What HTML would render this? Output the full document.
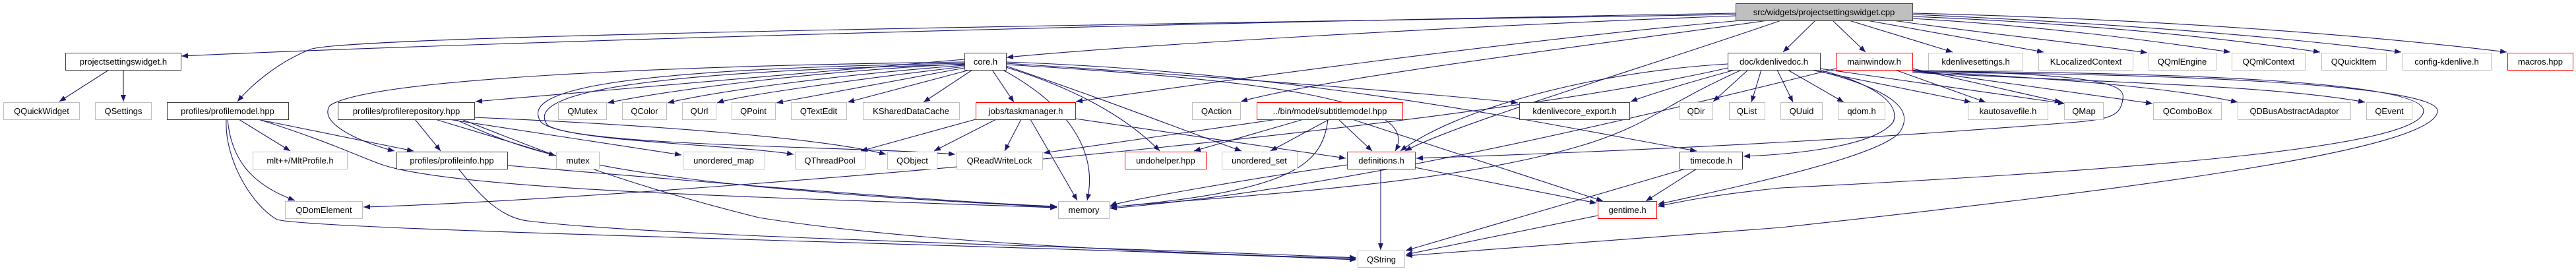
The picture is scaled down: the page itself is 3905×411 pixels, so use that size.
<!DOCTYPE html>
<html><head><meta charset="utf-8"><style>
html,body{margin:0;padding:0;background:#fff;width:3905px;height:411px;overflow:hidden}
svg text{font-family:"Liberation Sans",sans-serif;font-size:13px;text-anchor:middle;fill:#000}
.e{fill:none;stroke:#191970;stroke-width:1.1}
</style></head><body>
<svg width="3905" height="411" viewBox="0 0 3905 411" xmlns="http://www.w3.org/2000/svg">
<defs><marker id="a" markerUnits="userSpaceOnUse" markerWidth="11" markerHeight="8" refX="10" refY="4" orient="auto"><path d="M0,0 L10,4 L0,8 z" fill="#191970"/></marker></defs>
<g class="e" marker-end="url(#a)">
<path d="M165,106 L90,154"/>
<path d="M187,106 L187,154"/>
<!-- top node -->
<path d="M2631,20 C1500,40 600,70 275,85"/>
<path d="M2631,22 C1500,40 520,55 470,75 C420,95 380,130 360,154"/>
<path d="M2631,24 C2200,40 1700,70 1526,87"/>
<path d="M2640,31 C2300,60 1800,130 1631,154"/>
<path d="M2680,31 C2400,70 2000,120 1881,154"/>
<path d="M2700,31 C2500,100 2200,190 2130,229"/>
<path d="M2752,31 L2703,79"/>
<path d="M2778,31 L2828,79"/>
<path d="M2803,31 L2960,79"/>
<path d="M2830,31 L3098,79"/>
<path d="M2870,31 C3000,50 3150,65 3255,80"/>
<path d="M2899,28 C3100,40 3250,60 3381,79"/>
<path d="M2899,25 C3150,35 3350,55 3517,79"/>
<path d="M2899,22 C3200,35 3450,55 3640,79"/>
<path d="M2899,20 C3300,30 3600,55 3800,79"/>
<!-- core.h -->
<path d="M1462,97 C1200,110 1000,140 921,156"/>
<path d="M1462,99 C1250,115 1080,140 1012,156"/>
<path d="M1462,101 C1300,120 1120,145 1087,156"/>
<path d="M1462,103 L1177,156"/>
<path d="M1470,106 L1285,155"/>
<path d="M1474,106 L1400,155"/>
<path d="M1504,106 L1537,155"/>
<path d="M1520,106 C1620,160 1665,230 1648,304"/>
<path d="M1525,102 C1650,140 1720,190 1758,229"/>
<path d="M1525,100 C1700,160 1800,200 1882,229"/>
<path d="M1525,98 C1900,120 2160,150 2115,229"/>
<path d="M1525,96 C1900,120 2200,145 2301,156"/>
<path d="M1525,94 C2000,110 2400,200 2572,229"/>
<path d="M1462,90 L721,154"/>
<path d="M1462,94 C1000,100 560,120 500,160 C480,190 560,220 598,229"/>
<path d="M1462,96 C900,105 790,140 820,185 C850,215 1100,218 1203,234"/>
<path d="M1462,98 C900,110 800,150 830,190 C880,222 1300,222 1448,234"/>
<!-- profilerepository -->
<path d="M629,181 L668,229"/>
<path d="M660,181 L842,236"/>
<path d="M680,181 L1033,235"/>
<path d="M719,178 C1000,190 1250,210 1343,234"/>
<path d="M690,181 C800,230 900,280 1602,314"/>
<path d="M700,181 C850,240 950,280 1150,330 C1400,370 1800,385 2056,392"/>
<!-- profilemodel -->
<path d="M362,181 L440,229"/>
<path d="M345,181 C350,240 380,280 447,304"/>
<path d="M390,181 L627,229"/>
<path d="M392,181 C500,215 550,240 580,250 C700,290 1200,300 1602,315"/>
<path d="M343,181 C340,240 380,310 420,333 C480,350 1500,370 2056,394"/>
<!-- profileinfo -->
<path d="M769,251 C1000,270 1400,305 1602,313"/>
<path d="M695,256 C730,300 760,330 800,335 C1000,360 1700,375 2056,391"/>
<!-- taskmanager -->
<path d="M1479,181 L1305,229"/>
<path d="M1510,181 L1416,229"/>
<path d="M1548,181 L1523,229"/>
<path d="M1562,181 L1633,304"/>
<path d="M1630,180 L2040,240"/>
<!-- subtitlemodel -->
<path d="M1936,181 L1582,232"/>
<path d="M1976,181 L1810,229"/>
<path d="M2015,181 L1926,229"/>
<path d="M2029,181 L2080,229"/>
<path d="M2013,181 C2005,250 1960,290 1683,314"/>
<path d="M2050,181 L2430,305"/>
<!-- definitions/timecode/gentime -->
<path d="M2093,256 L2093,379"/>
<path d="M2145,254 L2420,308"/>
<path d="M2042,250 C1900,270 1700,305 1683,312"/>
<path d="M2572,256 L2495,305"/>
<path d="M2555,256 L2131,380"/>
<path d="M2422,327 L2131,386"/>
<!-- kdenlivedoc -->
<path d="M2650,106 L2597,154"/>
<path d="M2670,106 L2655,155"/>
<path d="M2694,106 L2718,155"/>
<path d="M2710,106 L2795,155"/>
<path d="M2745,106 L2988,155"/>
<path d="M2759,104 L3130,157"/>
<path d="M2630,106 C2560,125 2510,140 2472,154"/>
<path d="M2619,97 C2400,110 2200,170 2123,229"/>
<path d="M2759,106 C2850,130 2880,160 2870,185 C2840,225 2700,235 2643,237"/>
<path d="M2759,108 C2880,140 2900,170 2880,200 C2850,240 2600,290 2513,310"/>
<path d="M2640,106 C2520,160 2500,190 2400,220 C2200,280 1900,295 1683,314"/>
<path d="M2619,103 C2200,200 1000,300 551,314"/>
<!-- mainwindow -->
<path d="M2873,106 L3010,155"/>
<path d="M2899,104 L3125,155"/>
<path d="M2899,106 L3263,157"/>
<path d="M2899,108 C3150,120 3300,135 3392,155"/>
<path d="M2899,110 C3200,125 3450,130 3585,155"/>
<path d="M2899,107 C3200,112 3222,130 3218,150 C3215,175 3200,180 3150,185 C2900,205 2600,225 2147,240"/>
<path d="M2899,108 C3400,110 3674,130 3674,168 C3674,220 3300,255 2700,285 C2600,295 2550,305 2513,313"/>
<path d="M2899,110 C3400,112 3695,135 3695,168 C3695,230 3200,290 2700,345 L2131,388"/>
<path d="M2783,104 C2400,200 2000,290 1683,316"/>
</g>
<!-- nodes -->
<g stroke-width="1">
<rect x="2631.5" y="5.5" width="268" height="26" fill="#bfbfbf" stroke="#404040"/><text x="2765" y="23">src/widgets/projectsettingswidget.cpp</text>
<rect x="99.5" y="80.5" width="175" height="26" fill="#fff" stroke="#404040"/><text x="187" y="98">projectsettingswidget.h</text>
<rect x="1462.5" y="80.5" width="63" height="26" fill="#fff" stroke="#404040"/><text x="1494" y="98">core.h</text>
<rect x="2619.5" y="80.5" width="140" height="26" fill="#fff" stroke="#404040"/><text x="2689" y="98">doc/kdenlivedoc.h</text>
<rect x="2783.5" y="80.5" width="116" height="26" fill="#fff" stroke="#ff0000"/><text x="2841" y="98">mainwindow.h</text>
<rect x="2923.5" y="80.5" width="143" height="26" fill="#fff" stroke="#bfbfbf"/><text x="2995" y="98">kdenlivesettings.h</text>
<rect x="3090.5" y="80.5" width="143" height="26" fill="#fff" stroke="#bfbfbf"/><text x="3162" y="98">KLocalizedContext</text>
<rect x="3257.5" y="80.5" width="102" height="26" fill="#fff" stroke="#bfbfbf"/><text x="3308" y="98">QQmlEngine</text>
<rect x="3383.5" y="80.5" width="111" height="26" fill="#fff" stroke="#bfbfbf"/><text x="3439" y="98">QQmlContext</text>
<rect x="3519.5" y="80.5" width="98" height="26" fill="#fff" stroke="#bfbfbf"/><text x="3568" y="98">QQuickItem</text>
<rect x="3642.5" y="80.5" width="134" height="26" fill="#fff" stroke="#bfbfbf"/><text x="3709" y="98">config-kdenlive.h</text>
<rect x="3801.5" y="80.5" width="99" height="26" fill="#fff" stroke="#ff0000"/><text x="3851" y="98">macros.hpp</text>

<rect x="5.5" y="155.5" width="115" height="26" fill="#fff" stroke="#bfbfbf"/><text x="63" y="173">QQuickWidget</text>
<rect x="144.5" y="155.5" width="85" height="26" fill="#fff" stroke="#bfbfbf"/><text x="187" y="173">QSettings</text>
<rect x="253.5" y="155.5" width="184" height="26" fill="#fff" stroke="#404040"/><text x="345" y="173">profiles/profilemodel.hpp</text>
<rect x="512.5" y="155.5" width="207" height="26" fill="#fff" stroke="#404040"/><text x="616" y="173">profiles/profilerepository.hpp</text>
<rect x="846.5" y="155.5" width="73" height="26" fill="#fff" stroke="#bfbfbf"/><text x="883" y="173">QMutex</text>
<rect x="943.5" y="155.5" width="67" height="26" fill="#fff" stroke="#bfbfbf"/><text x="977" y="173">QColor</text>
<rect x="1034.5" y="155.5" width="51" height="26" fill="#fff" stroke="#bfbfbf"/><text x="1060" y="173">QUrl</text>
<rect x="1109.5" y="155.5" width="66" height="26" fill="#fff" stroke="#bfbfbf"/><text x="1142" y="173">QPoint</text>
<rect x="1199.5" y="155.5" width="84" height="26" fill="#fff" stroke="#bfbfbf"/><text x="1241" y="173">QTextEdit</text>
<rect x="1308.5" y="155.5" width="146" height="26" fill="#fff" stroke="#bfbfbf"/><text x="1381" y="173">KSharedDataCache</text>
<rect x="1479.5" y="155.5" width="151" height="26" fill="#fff" stroke="#ff0000"/><text x="1555" y="173">jobs/taskmanager.h</text>
<rect x="1807.5" y="155.5" width="73" height="26" fill="#fff" stroke="#bfbfbf"/><text x="1844" y="173">QAction</text>
<rect x="1905.5" y="155.5" width="221" height="26" fill="#fff" stroke="#ff0000"/><text x="2016" y="173">../bin/model/subtitlemodel.hpp</text>
<rect x="2303.5" y="155.5" width="167" height="26" fill="#fff" stroke="#404040"/><text x="2387" y="173">kdenlivecore_export.h</text>
<rect x="2546.5" y="155.5" width="50" height="26" fill="#fff" stroke="#bfbfbf"/><text x="2571" y="173">QDir</text>
<rect x="2621.5" y="155.5" width="54" height="26" fill="#fff" stroke="#bfbfbf"/><text x="2648" y="173">QList</text>
<rect x="2699.5" y="155.5" width="63" height="26" fill="#fff" stroke="#bfbfbf"/><text x="2731" y="173">QUuid</text>
<rect x="2786.5" y="155.5" width="71" height="26" fill="#fff" stroke="#bfbfbf"/><text x="2822" y="173">qdom.h</text>
<rect x="2983.5" y="155.5" width="121" height="26" fill="#fff" stroke="#bfbfbf"/><text x="3044" y="173">kautosavefile.h</text>
<rect x="3129.5" y="155.5" width="59" height="26" fill="#fff" stroke="#bfbfbf"/><text x="3159" y="173">QMap</text>
<rect x="3264.5" y="155.5" width="103" height="26" fill="#fff" stroke="#bfbfbf"/><text x="3316" y="173">QComboBox</text>
<rect x="3392.5" y="155.5" width="171" height="26" fill="#fff" stroke="#bfbfbf"/><text x="3478" y="173">QDBusAbstractAdaptor</text>
<rect x="3587.5" y="155.5" width="69" height="26" fill="#fff" stroke="#bfbfbf"/><text x="3622" y="173">QEvent</text>

<rect x="383.5" y="230.5" width="143" height="26" fill="#fff" stroke="#bfbfbf"/><text x="455" y="248">mlt++/MltProfile.h</text>
<rect x="601.5" y="230.5" width="168" height="26" fill="#fff" stroke="#404040"/><text x="685" y="248">profiles/profileinfo.hpp</text>
<rect x="843.5" y="230.5" width="65" height="26" fill="#fff" stroke="#bfbfbf"/><text x="876" y="248">mutex</text>
<rect x="1035.5" y="230.5" width="124" height="26" fill="#fff" stroke="#bfbfbf"/><text x="1097" y="248">unordered_map</text>
<rect x="1205.5" y="230.5" width="106" height="26" fill="#fff" stroke="#bfbfbf"/><text x="1258" y="248">QThreadPool</text>
<rect x="1345.5" y="230.5" width="75" height="26" fill="#fff" stroke="#bfbfbf"/><text x="1383" y="248">QObject</text>
<rect x="1450.5" y="230.5" width="130" height="26" fill="#fff" stroke="#bfbfbf"/><text x="1515" y="248">QReadWriteLock</text>
<rect x="1705.5" y="230.5" width="123" height="26" fill="#fff" stroke="#ff0000"/><text x="1767" y="248">undohelper.hpp</text>
<rect x="1852.5" y="230.5" width="114" height="26" fill="#fff" stroke="#bfbfbf"/><text x="1909" y="248">unordered_set</text>
<rect x="2042.5" y="230.5" width="103" height="26" fill="#fff" stroke="#ff0000"/><text x="2094" y="248">definitions.h</text>
<rect x="2546.5" y="230.5" width="95" height="26" fill="#fff" stroke="#404040"/><text x="2594" y="248">timecode.h</text>

<rect x="432.5" y="305.5" width="117" height="26" fill="#fff" stroke="#bfbfbf"/><text x="491" y="323">QDomElement</text>
<rect x="1604.5" y="305.5" width="77" height="26" fill="#fff" stroke="#bfbfbf"/><text x="1643" y="323">memory</text>
<rect x="2422.5" y="305.5" width="89" height="26" fill="#fff" stroke="#ff0000"/><text x="2467" y="323">gentime.h</text>

<rect x="2058.5" y="380.5" width="71" height="25" fill="#fff" stroke="#bfbfbf"/><text x="2094" y="398">QString</text>
</g>
</svg>
</body></html>
